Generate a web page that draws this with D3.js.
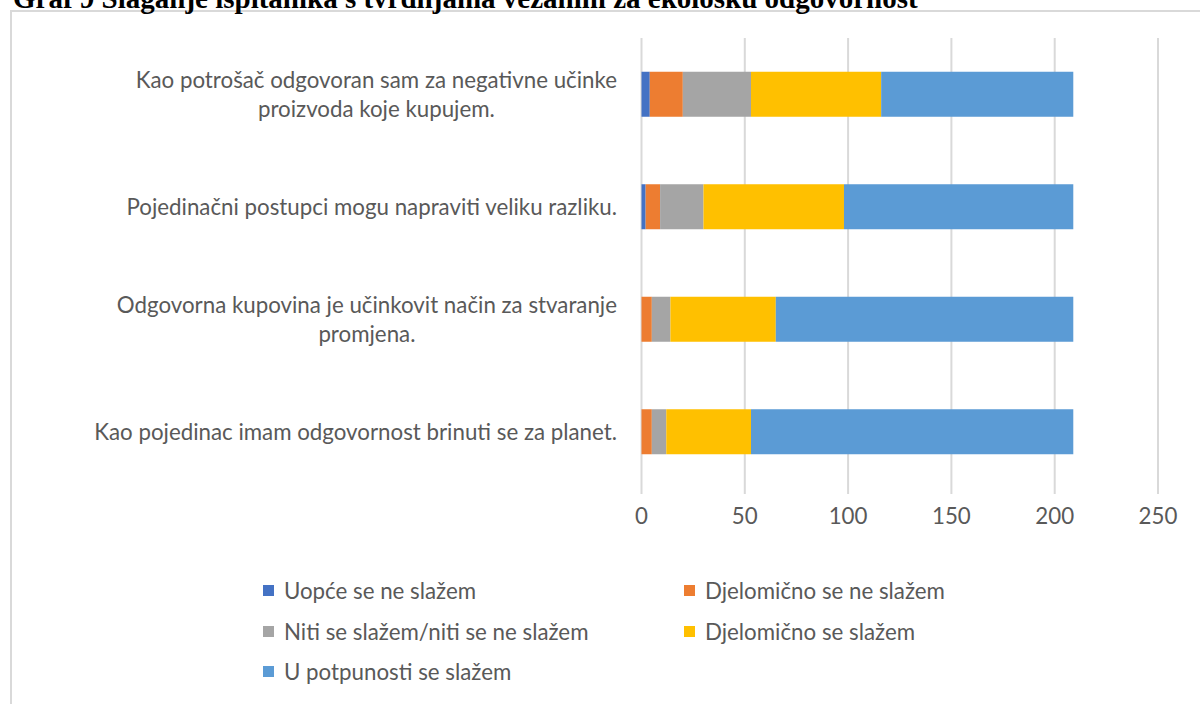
<!DOCTYPE html>
<html>
<head>
<meta charset="utf-8">
<script src="https://cdn.jsdelivr.net/npm/d3@7"></script>
<style>
  body { margin: 0; background: #fff; }
  svg { display: block; }
</style>
</head>
<body>
<div id="chart"></div>
<script>
// statements, top to bottom as shown
var categories = [
  "Kao potrošač odgovoran sam za negativne učinke|proizvoda koje kupujem.",
  "Pojedinačni postupci mogu napraviti veliku razliku.",
  "Odgovorna kupovina je učinkovit način za stvaranje|promjena.",
  "Kao pojedinac imam odgovornost brinuti se za planet."
];
var seriesNames = [
  "Uopće se ne slažem",
  "Djelomično se ne slažem",
  "Niti se slažem/niti se ne slažem",
  "Djelomično se slažem",
  "U potpunosti se slažem"
];
// one array per series, same order as categories
var uopce      = [4, 2, 0, 0];
var djelNe     = [16, 7, 5, 5];
var niti       = [33, 21, 9, 7];
var djelDa     = [63, 68, 51, 41];
var potpuno    = [93, 111, 144, 156];
var xTicks = [0, 50, 100, 150, 200, 250];
var colors = ["#4472C4", "#ED7D31", "#A5A5A5", "#FFC000", "#5B9BD5"];

var width = 1200, height = 704;
var svg = d3.select("#chart").append("svg")
  .attr("width", width).attr("height", height);

// chart frame (continues past the page edge)
svg.append("rect")
  .attr("x", 11).attr("y", 11)
  .attr("width", 1300).attr("height", 800)
  .attr("fill", "#fff").attr("stroke", "#d9d9d9").attr("stroke-width", 2);

// title sits half outside the page, as in the scan
svg.append("text")
  .attr("x", 13).attr("y", 8)
  .style("font-family", "'Liberation Serif', 'Times New Roman', serif")
  .style("font-weight", "bold")
  .style("font-size", "29px")
  .attr("fill", "#000")
  .text("Graf 9 Slaganje ispitanika s tvrdnjama vezanim za ekološku odgovornost");

var rows = categories.map(function(c, i) {
  return {cat: c, vals: [uopce[i], djelNe[i], niti[i], djelDa[i], potpuno[i]]};
});

var x = d3.scaleLinear().domain([0, 250]).range([641.5, 1158]);
var y = d3.scaleBand().domain(categories).range([38, 488]).paddingInner(0.6).paddingOuter(0.3);

var font = "Lato, 'Open Sans', sans-serif";
var fs = "22.3px";
var textCol = "#595959";

// gridlines
svg.append("g").selectAll("line").data(xTicks).enter().append("line")
  .attr("x1", function(d) { return x(d); }).attr("x2", function(d) { return x(d); })
  .attr("y1", 38).attr("y2", 494)
  .attr("stroke", "#d9d9d9").attr("stroke-width", 2);

// stacked bars
var stack = [];
rows.forEach(function(r) {
  var acc = 0;
  r.vals.forEach(function(v, k) {
    stack.push({cat: r.cat, k: k, x0: acc, x1: acc + v});
    acc += v;
  });
});
svg.append("g").selectAll("rect").data(stack).enter().append("rect")
  .attr("x", function(d) { return x(d.x0); })
  .attr("width", function(d) { return x(d.x1) - x(d.x0); })
  .attr("y", function(d) { return y(d.cat); })
  .attr("height", y.bandwidth())
  .attr("fill", function(d) { return colors[d.k]; });

// x tick labels
svg.append("g").selectAll("text").data(xTicks).enter().append("text")
  .attr("x", function(d) { return x(d); }).attr("y", 524)
  .attr("text-anchor", "middle")
  .style("font-family", font).style("font-size", fs)
  .attr("fill", textCol)
  .text(function(d) { return d; });

// category labels, lines centred, block right-aligned at 617
var labels = svg.append("g");
categories.forEach(function(c) {
  var lines = c.split("|");
  var g = labels.append("g");
  var t = g.selectAll("text").data(lines).enter().append("text")
    .style("font-family", font).style("font-size", fs)
    .attr("fill", textCol)
    .attr("text-anchor", "middle")
    .text(function(d) { return d; });
  var maxW = 0;
  t.each(function() { maxW = Math.max(maxW, this.getComputedTextLength()); });
  var cx = 617 - maxW / 2;
  var cy = y(c) + y.bandwidth() / 2;
  var lh = 29;
  t.attr("x", cx)
    .attr("y", function(d, i) { return cy + (i - (lines.length - 1) / 2) * lh; })
    .attr("dy", "0.35em");
});

// legend
var legPos = [[263, 591], [684, 591], [263, 632], [684, 632], [263, 672]];
var leg = svg.append("g").selectAll("g").data(seriesNames).enter().append("g")
  .attr("transform", function(d, i) { return "translate(" + legPos[i][0] + "," + legPos[i][1] + ")"; });
leg.append("rect").attr("x", 0).attr("y", -6).attr("width", 11).attr("height", 11)
  .attr("fill", function(d, i) { return colors[i]; });
leg.append("text").attr("x", 21).attr("dy", "0.35em")
  .style("font-family", font).style("font-size", fs)
  .attr("fill", textCol)
  .text(function(d) { return d; });
</script>
</body>
</html>
